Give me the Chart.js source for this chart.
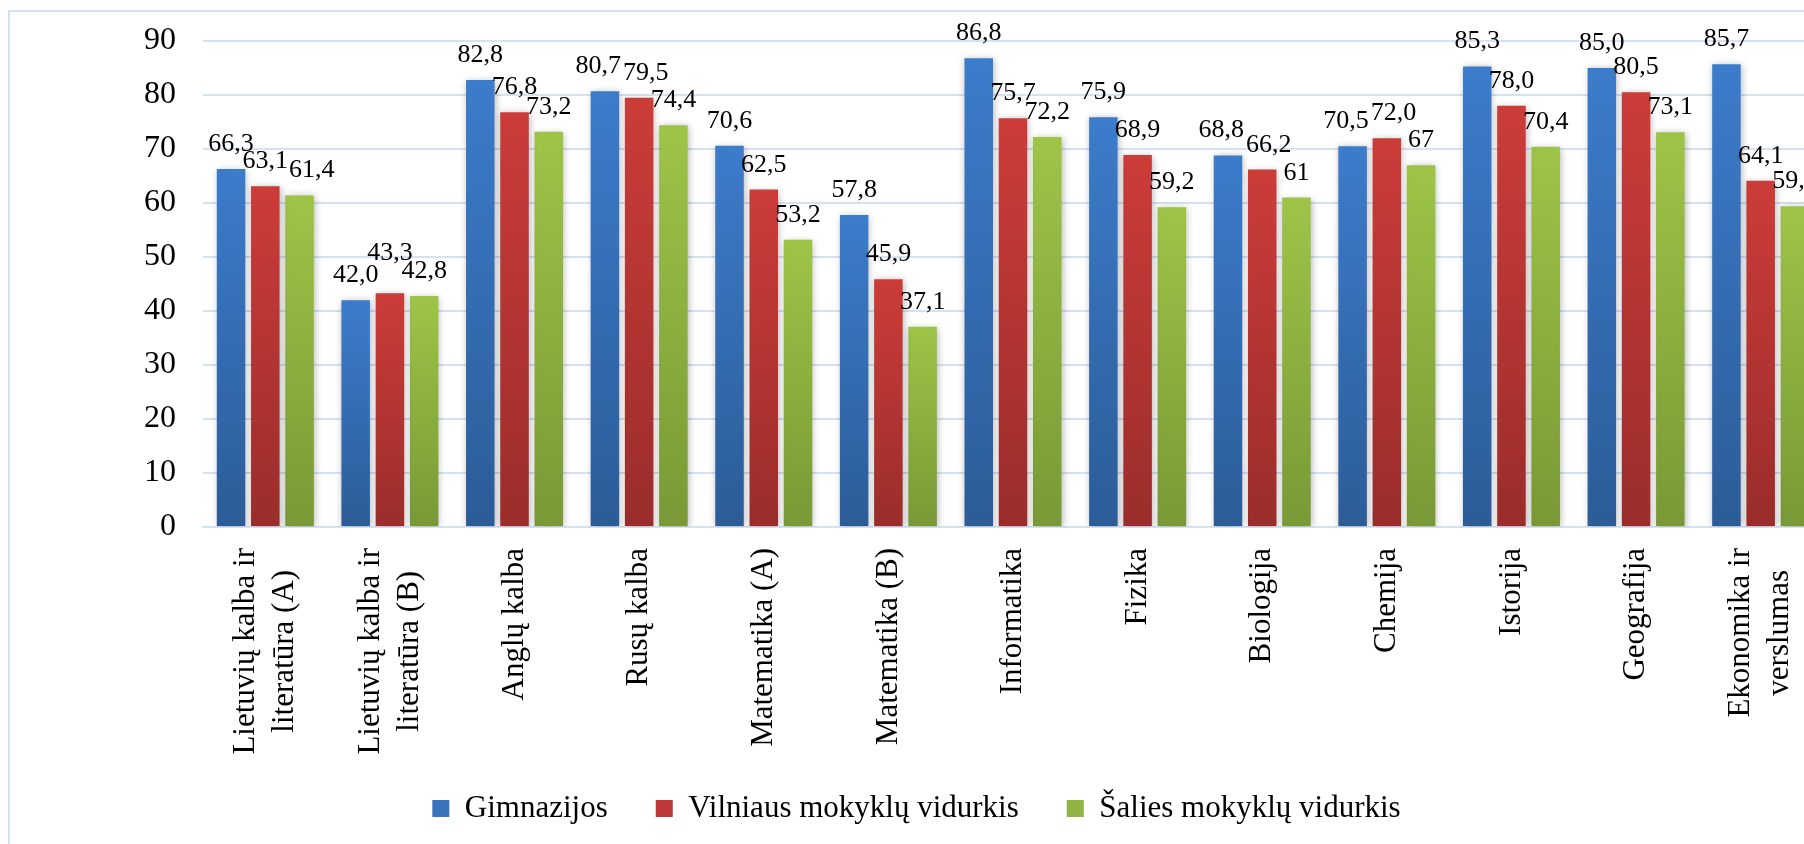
<!DOCTYPE html>
<html lang="lt">
<head>
<meta charset="utf-8">
<title>Brandos egzaminų rezultatai</title>
<script src="https://cdn.jsdelivr.net/npm/chart.js@4.4.1/dist/chart.umd.min.js"></script>
<style>
    html, body { margin: 0; padding: 0; background: #fff; overflow: hidden; }
    #chart-box {
        position: absolute;
        left: 8px;
        top: 10px;
        border-left: 2px solid #d6e1f1;
        border-top: 2px solid #d6e1f1;
    }
    canvas { display: block; }
</style>
</head>
<body>
<div id="chart-box"><canvas id="results-chart" width="1824" height="832"></canvas></div>
<script>
// chart data
const categories = [
    ['Lietuvių kalba ir', 'literatūra (A)'],
    ['Lietuvių kalba ir', 'literatūra (B)'],
    'Anglų kalba',
    'Rusų kalba',
    'Matematika (A)',
    'Matematika (B)',
    'Informatika',
    'Fizika',
    'Biologija',
    'Chemija',
    'Istorija',
    'Geografija',
    ['Ekonomika ir', 'verslumas']
];
const gimnazijos = [66.3, 42.0, 82.8, 80.7, 70.6, 57.8, 86.8, 75.9, 68.8, 70.5, 85.3, 85.0, 85.7];
const vilniausVidurkis = [63.1, 43.3, 76.8, 79.5, 62.5, 45.9, 75.7, 68.9, 66.2, 72.0, 78.0, 80.5, 64.1];
const saliesVidurkis = [61.4, 42.8, 73.2, 74.4, 53.2, 37.1, 72.2, 59.2, 61, 67, 70.4, 73.1, 59.4];
const seriesNames = ['Gimnazijos', 'Vilniaus mokyklų vidurkis', 'Šalies mokyklų vidurkis'];
const yMin = 0;
const yMax = 90;
const yStep = 10;

const serif = '"Liberation Serif", "Times New Roman", serif';
const gridColor = '#d6e1f1';

// vertical gradient per bar, light at the top
function barGradient(top, bottom) {
    return (context) => {
        const chart = context.chart;
        if (!chart.chartArea || context.type !== 'data') return bottom;
        const y = chart.scales.y;
        const g = chart.ctx.createLinearGradient(0, y.getPixelForValue(context.raw), 0, y.getPixelForValue(0));
        g.addColorStop(0, top);
        g.addColorStop(1, bottom);
        return g;
    };
}

function formatValue(v, decimals) {
    const s = decimals == null ? String(v) : v.toFixed(decimals);
    return s.replace('.', ',');
}

function overlaps(a, b) {
    return Math.abs(a.x - b.x) < (a.w + b.w) / 2 && Math.abs(a.y - b.y) < 16;
}

// soft shadow behind bars + value labels on top
const barDecor = {
    id: 'barDecor',
    beforeDatasetsDraw(chart) {
        const ctx = chart.ctx;
        ctx.save();
        ctx.shadowColor = 'rgba(0, 0, 0, 0.28)';
        ctx.shadowBlur = 7;
        ctx.shadowOffsetX = 1;
        ctx.shadowOffsetY = 1;
    },
    afterDatasetsDraw(chart) {
        const ctx = chart.ctx;
        ctx.restore();
        ctx.save();
        ctx.font = '26px ' + serif;
        ctx.fillStyle = '#000';
        ctx.textAlign = 'center';
        ctx.textBaseline = 'alphabetic';
        categories.forEach((c, i) => {
            const [a, b, g] = chart.data.datasets.map((ds, d) => {
                const bar = chart.getDatasetMeta(d).data[i];
                const text = formatValue(ds.data[i], ds.labelDecimals);
                return { text, x: bar.x, y: bar.y - 18, w: ctx.measureText(text).width };
            });
            // keep colliding labels readable, roughly the way they were moved by hand
            if (overlaps(b, a)) {
                if (overlaps(g, b)) {
                    b.y = a.y - 22;
                } else {
                    const shift = ((a.w + b.w) / 2 - (b.x - a.x)) / 2 + 1;
                    a.x -= shift;
                    b.x += shift;
                }
            }
            if (overlaps(g, b)) {
                g.x = b.x + (b.w + g.w) / 2 + 1;
            }
            [a, b, g].forEach(l => ctx.fillText(l.text, l.x, l.y));
        });
        ctx.restore();
    }
};

// rotated category labels, each line centred like in the original
const categoryLabels = {
    id: 'categoryLabels',
    afterDraw(chart) {
        const ctx = chart.ctx;
        const xScale = chart.scales.x;
        const lineHeight = 39;
        const top = chart.chartArea.bottom + 21;
        ctx.save();
        ctx.font = '31px ' + serif;
        ctx.fillStyle = '#000';
        ctx.textAlign = 'center';
        ctx.textBaseline = 'middle';
        categories.forEach((label, i) => {
            const lines = Array.isArray(label) ? label : [label];
            const maxW = Math.max(...lines.map(l => ctx.measureText(l).width));
            const cx = xScale.getPixelForTick(i);
            lines.forEach((line, j) => {
                ctx.save();
                ctx.translate(cx + (j - (lines.length - 1) / 2) * lineHeight, top + maxW / 2);
                ctx.rotate(-Math.PI / 2);
                ctx.fillText(line, 0, 0);
                ctx.restore();
            });
        });
        ctx.restore();
    }
};

const legendColors = ['#3a74bd', '#c0393a', '#8fb443'];

new Chart(document.getElementById('results-chart'), {
    type: 'bar',
    data: {
        labels: categories,
        datasets: [
            {
                label: seriesNames[0],
                data: gimnazijos,
                labelDecimals: 1,
                backgroundColor: barGradient('#3c7ccb', '#2c5c98')
            },
            {
                label: seriesNames[1],
                data: vilniausVidurkis,
                labelDecimals: 1,
                backgroundColor: barGradient('#cc3c39', '#9a2d2b')
            },
            {
                label: seriesNames[2],
                data: saliesVidurkis,
                labelDecimals: null,
                backgroundColor: barGradient('#9ec447', '#789936')
            }
        ]
    },
    options: {
        responsive: false,
        animation: false,
        devicePixelRatio: 1,
        categoryPercentage: 0.8246,
        barPercentage: 0.832,
        layout: {
            padding: { left: 0, top: 29, right: 11, bottom: 10 }
        },
        plugins: {
            tooltip: { enabled: false },
            legend: {
                position: 'bottom',
                labels: {
                    boxWidth: 17,
                    boxHeight: 17,
                    padding: 48,
                    color: '#000',
                    font: { family: serif, size: 31 },
                    generateLabels: (chart) => chart.data.datasets.map((ds, i) => ({
                        text: ds.label,
                        fillStyle: legendColors[i],
                        strokeStyle: legendColors[i],
                        lineWidth: 0,
                        hidden: false,
                        datasetIndex: i
                    }))
                }
            }
        },
        scales: {
            x: {
                grid: { display: false, drawTicks: false },
                border: { color: gridColor, width: 2 },
                ticks: { display: false },
                afterFit: (scale) => { scale.height = 218; }
            },
            y: {
                min: yMin,
                max: yMax,
                grid: { color: gridColor, lineWidth: 2, drawTicks: false },
                border: { display: false },
                ticks: {
                    stepSize: yStep,
                    padding: 27,
                    color: '#000',
                    font: { family: serif, size: 32 }
                },
                afterFit: (scale) => {
                    scale.width = 193;
                    // the tick padding would otherwise be added above the plot too
                    scale.paddingTop = 0;
                    scale.paddingBottom = 0;
                }
            }
        }
    },
    plugins: [barDecor, categoryLabels]
});
</script>
</body>
</html>
